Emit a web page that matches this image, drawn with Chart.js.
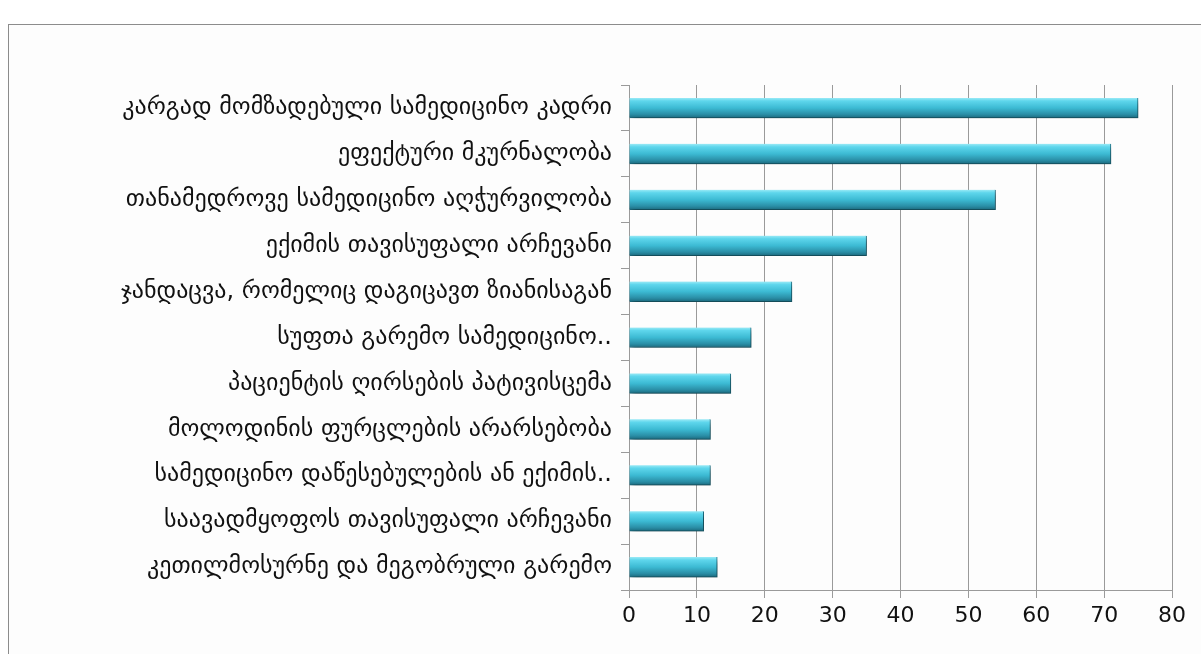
<!DOCTYPE html>
<html>
<head>
<meta charset="utf-8">
<script src="https://cdn.jsdelivr.net/npm/chart.js@4.4.0/dist/chart.umd.min.js"></script>
<style>
  html, body { margin: 0; padding: 0; background: #fff; overflow: hidden; }
  #frame { position: absolute; left: 8px; top: 24px; width: 1250px; height: 700px;
           border: 1px solid #8c8c8c; background: #fdfdfd; }
  #wrap { position: absolute; left: 0; top: 0; width: 1201px; height: 654px; }
</style>
</head>
<body>
<div id="frame"></div>
<div id="wrap"><canvas id="chart" width="1201" height="654"></canvas></div>
<script>
// ── Data ──────────────────────────────────────────────
const CATEGORIES = [
  'კარგად მომზადებული სამედიცინო კადრი',
  'ეფექტური მკურნალობა',
  'თანამედროვე სამედიცინო აღჭურვილობა',
  'ექიმის თავისუფალი არჩევანი',
  'ჯანდაცვა, რომელიც დაგიცავთ ზიანისაგან',
  'სუფთა გარემო სამედიცინო..',
  'პაციენტის ღირსების პატივისცემა',
  'მოლოდინის ფურცლების არარსებობა',
  'სამედიცინო დაწესებულების ან ექიმის..',
  'საავადმყოფოს თავისუფალი არჩევანი',
  'კეთილმოსურნე და მეგობრული გარემო'
];
const VALUES = [75, 71, 54, 35, 24, 18, 15, 12, 12, 11, 13];
const X_TICKS = [0, 10, 20, 30, 40, 50, 60, 70, 80];

// ── Bar look ──────────────────────────────────────────
const BAR_H = 20;
function barFill(c) {
  const chart = c.chart;
  if (!chart.chartArea || !chart.scales.y) return '#45bfd6';
  const yc = chart.scales.y.getPixelForValue(c.dataIndex);
  const g = chart.ctx.createLinearGradient(0, yc - BAR_H / 2, 0, yc + BAR_H / 2);
  g.addColorStop(0, '#9aeaf6');
  g.addColorStop(0.15, '#5ed6ec');
  g.addColorStop(0.5, '#3cbad3');
  g.addColorStop(0.82, '#2a8ea6');
  g.addColorStop(1, '#1c6a7e');
  return g;
}

const shadowPlugin = {
  id: 'barShadow',
  beforeDatasetsDraw(chart) {
    const ctx = chart.ctx;
    ctx.save();
    ctx.shadowColor = 'rgba(0,0,0,0.35)';
    ctx.shadowOffsetX = 3;
    ctx.shadowOffsetY = 4;
    ctx.shadowBlur = 5;
  },
  afterDatasetsDraw(chart) { chart.ctx.restore(); }
};

new Chart(document.getElementById('chart'), {
  type: 'bar',
  data: {
    labels: CATEGORIES,
    datasets: [{
      data: VALUES,
      backgroundColor: barFill,
      borderColor: '#1d6f83',
      borderWidth: { top: 0, left: 0, bottom: 1, right: 1 },
      barThickness: BAR_H,
      borderSkipped: 'start'
    }]
  },
  options: {
    indexAxis: 'y',
    responsive: false,
    animation: false,
    layout: { padding: { top: 85, right: 29, left: 0, bottom: 0 } },
    plugins: { legend: { display: false }, tooltip: { enabled: false } },
    scales: {
      x: {
        min: 0, max: 80,
        afterBuildTicks: s => { s.ticks = X_TICKS.map(v => ({ value: v })); },
        afterFit: s => { s.height = 64; },
        grid: { color: '#9a9a9a', lineWidth: 1, tickLength: 8, drawTicks: true },
        border: { color: '#9a9a9a' },
        ticks: { color: '#111', padding: 5, font: { family: 'DejaVu Sans', size: 22 } }
      },
      y: {
        afterFit: s => { s.width = 629; },
        grid: { color: '#9a9a9a', drawOnChartArea: false, tickLength: 8, offset: true },
        border: { color: '#9a9a9a' },
        ticks: { color: '#111', padding: 9, autoSkip: false,
                 font: { family: 'DejaVu Sans', size: 24 } }
      }
    }
  },
  plugins: [shadowPlugin]
});
</script>
</body>
</html>
